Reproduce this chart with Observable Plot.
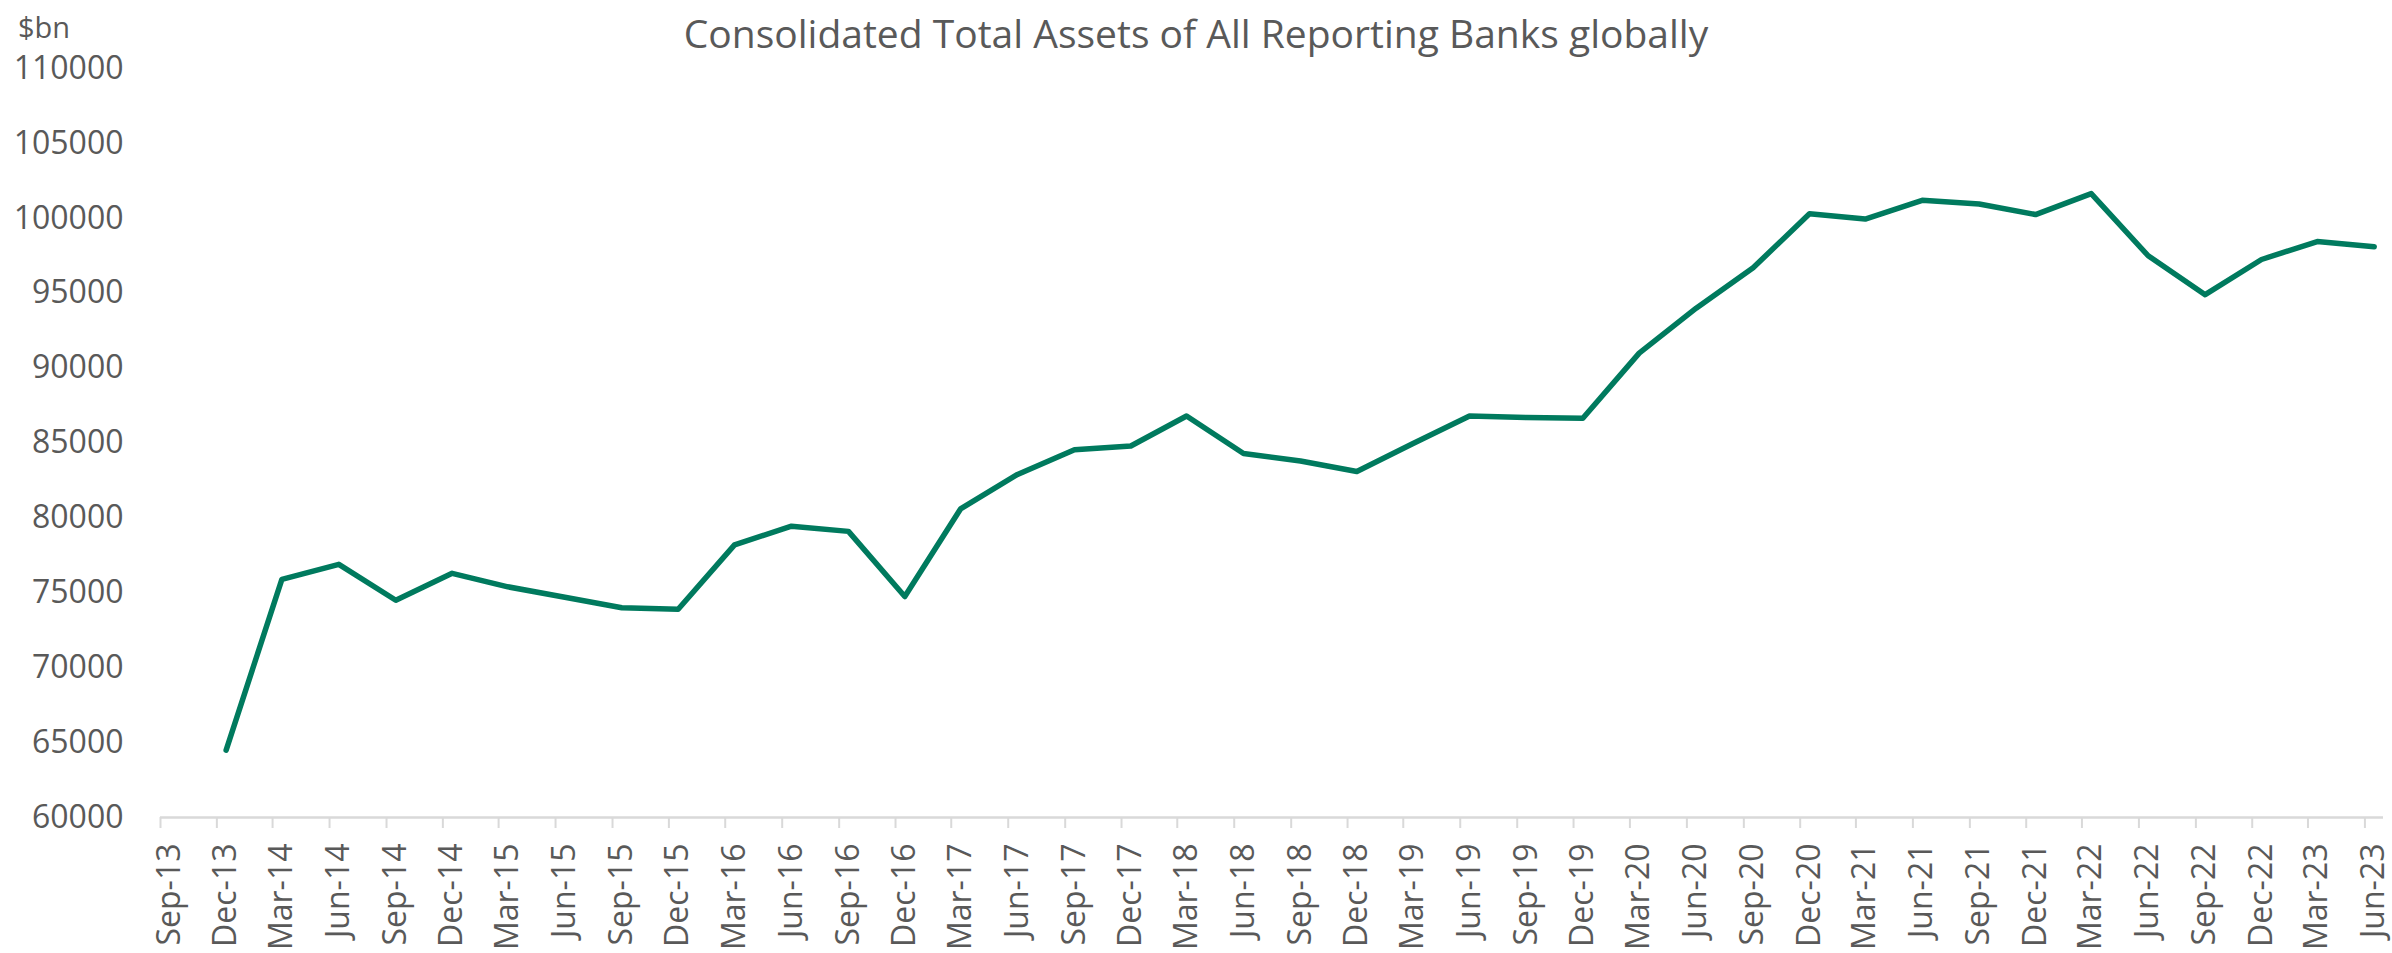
<!DOCTYPE html>
<html>
<head>
<meta charset="utf-8">
<script src="https://cdn.jsdelivr.net/npm/d3@7"></script>
<script src="https://cdn.jsdelivr.net/npm/@observablehq/plot@0.6"></script>
<style>
  body { margin: 0; background: #ffffff; }
  #wrap { position: relative; width: 2392px; height: 953px; font-family: "Open Sans", sans-serif; color: #595959; }
  #title { position: absolute; left: 0; top: 13px; width: 2392px; text-align: center; font-size: 39px; line-height: 39px; white-space: nowrap; }
  #unit { position: absolute; left: 18px; top: 12px; font-size: 29px; line-height: 29px; }
  #chart { position: absolute; left: 0; top: 0; }
</style>
</head>
<body>
<div id="wrap">
  <div id="chart"></div>
  <div id="title">Consolidated Total Assets of All Reporting Banks globally</div>
  <div id="unit">$bn</div>
</div>
<script>
// Quarter labels (category axis), Sep-13 .. Jun-23
const quarters = ["Sep-13","Dec-13","Mar-14","Jun-14","Sep-14","Dec-14","Mar-15","Jun-15","Sep-15","Dec-15",
  "Mar-16","Jun-16","Sep-16","Dec-16","Mar-17","Jun-17","Sep-17","Dec-17",
  "Mar-18","Jun-18","Sep-18","Dec-18","Mar-19","Jun-19","Sep-19","Dec-19",
  "Mar-20","Jun-20","Sep-20","Dec-20","Mar-21","Jun-21","Sep-21","Dec-21",
  "Mar-22","Jun-22","Sep-22","Dec-22","Mar-23","Jun-23"];
// Consolidated total assets, $bn (no value for Sep-13)
const assets = [null, 64500, 75900, 76900, 74500, 76300, 75400, 74700, 74000, 73900,
  78200, 79450, 79100, 74750, 80600, 82900, 84550, 84800,
  86800, 84300, 83800, 83100, 84950, 86800, 86700, 86650,
  91000, 94000, 96700, 100300, 99950, 101200, 100950, 100250,
  101650, 97500, 94900, 97250, 98450, 98100];
const yTicks = [60000, 65000, 70000, 75000, 80000, 85000, 90000, 95000, 100000, 105000, 110000];

const parseQ = d3.utcParse("%b-%y");
const fmtQ = d3.utcFormat("%b-%y");
const tickDates = quarters.map(parseQ);                       // month starts (tick marks)
const midDates = tickDates.map(d => d3.utcDay.offset(d, 15)); // month middles (points & labels)
const xDomain = [tickDates[0], d3.utcMonth.offset(tickDates[tickDates.length - 1], 1)];

const data = quarters
  .map((q, i) => ({date: midDates[i], value: assets[i]}))
  .filter(d => d.value != null);

const chart = Plot.plot({
  width: 2392,
  height: 953,
  marginLeft: 160,
  marginRight: 9,
  marginTop: 68,
  marginBottom: 136,
  style: { fontFamily: "Open Sans, sans-serif", fontSize: "32px", color: "#595959", background: "transparent" },
  x: { type: "utc", domain: xDomain, label: null },
  y: { domain: [60000, 110000], label: null },
  marks: [
    Plot.axisY({ ticks: yTicks, tickSize: 0, tickPadding: 37, tickFormat: d => String(d), fontSize: 32, label: null }),
    Plot.ruleY([60000], { stroke: "#d9d9d9", strokeWidth: 2.5 }),
    Plot.axisX({ ticks: tickDates, tickSize: 11, stroke: "#d9d9d9", strokeWidth: 2, tickFormat: () => null, label: null }),
    Plot.axisX({ ticks: midDates, tickSize: 0, tickPadding: 26, tickRotate: -90, tickFormat: d => fmtQ(d), fontSize: 32, label: null }),
    Plot.line(data, { x: "date", y: "value", stroke: "#007a5e", strokeWidth: 5.5, strokeLinejoin: "round", strokeLinecap: "round" })
  ]
});
document.getElementById("chart").appendChild(chart);
</script>
</body>
</html>
